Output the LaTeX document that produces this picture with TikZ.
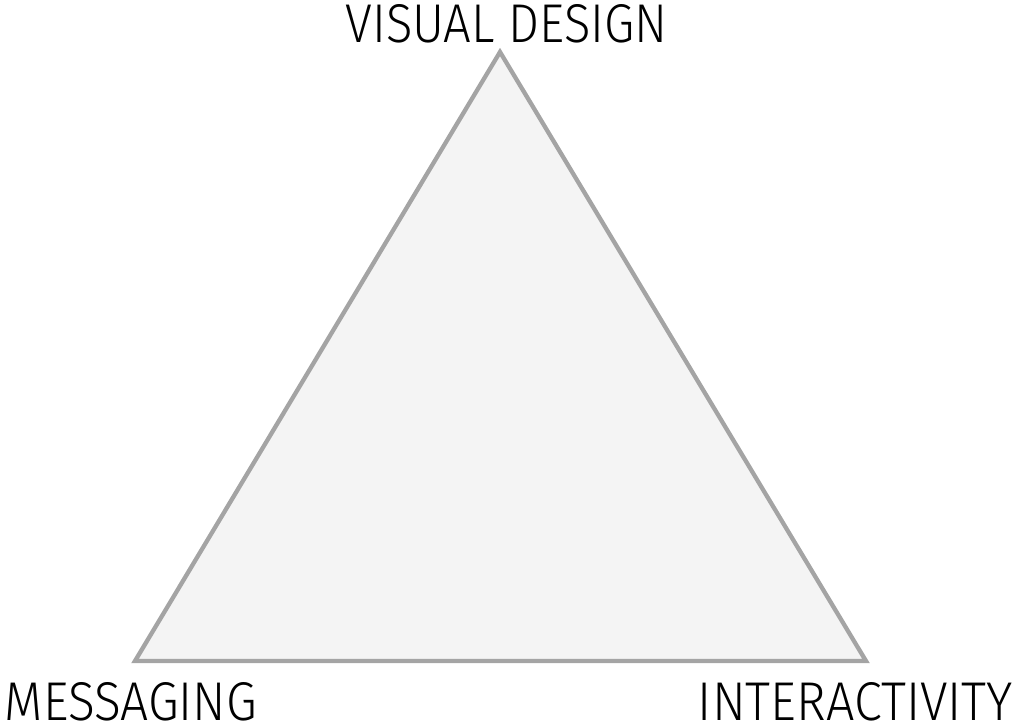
\documentclass[tikz,border=0pt]{standalone}
\usepackage{fontspec}
\setmainfont{Fira Sans}[UprightFont=* Light]
\usepackage{graphicx}
\definecolor{edgegray}{HTML}{A4A4A4}
\definecolor{fillgray}{HTML}{F4F4F4}
\begin{document}
\begin{tikzpicture}[x=1pt,y=-1pt,
  lbl/.style={inner sep=0pt,outer sep=0pt,anchor=center}]
\useasboundingbox (0,0) rectangle (1020,725);
\coordinate (top) at (500,52);
\coordinate (bl) at (135,661);
\coordinate (br) at (866,661);
\draw[edgegray,line width=4.3pt,fill=fillgray,line join=miter] (top) -- (br) -- (bl) -- cycle;
\node[lbl] (vd) at (506.5,24) {\resizebox{322pt}{38pt}{VISUAL DESIGN}};
\node[lbl] (msg) at (131,701.5) {\resizebox{252pt}{38pt}{MESSAGING}};
\node[lbl] (int) at (855.5,701.5) {\resizebox{315pt}{38pt}{INTERACTIVITY}};
\end{tikzpicture}
\end{document}
